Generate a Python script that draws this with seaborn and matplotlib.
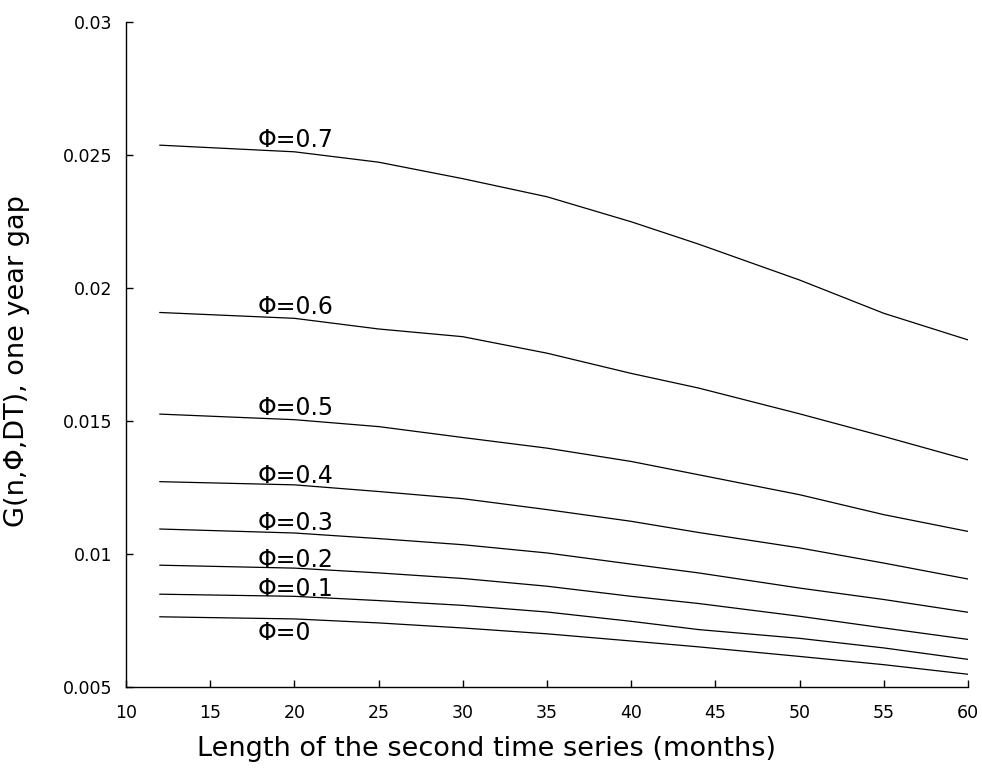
import numpy as np
import pandas as pd
import seaborn as sns
import matplotlib.pyplot as plt

# series length (months) at which values were read
months = [12, 20, 25, 30, 35, 40, 44, 50, 55, 60]

phi_labels = ['0.7', '0.6', '0.5', '0.4', '0.3', '0.2', '0.1', '0']

g_07 = [0.02537, 0.02512, 0.02473, 0.02411, 0.02343, 0.02249, 0.02165, 0.02030, 0.01905, 0.01805]
g_06 = [0.01908, 0.01886, 0.01846, 0.01817, 0.01755, 0.01679, 0.01624, 0.01527, 0.01442, 0.01354]
g_05 = [0.01526, 0.01505, 0.01479, 0.01438, 0.01398, 0.01348, 0.01298, 0.01223, 0.01148, 0.01085]
g_04 = [0.01272, 0.01260, 0.01235, 0.01208, 0.01167, 0.01123, 0.01081, 0.01023, 0.00966, 0.00906]
g_03 = [0.01094, 0.01079, 0.01058, 0.01035, 0.01004, 0.00962, 0.00929, 0.00872, 0.00829, 0.00781]
g_02 = [0.00958, 0.00947, 0.00929, 0.00908, 0.00879, 0.00841, 0.00814, 0.00766, 0.00722, 0.00679]
g_01 = [0.00849, 0.00841, 0.00825, 0.00807, 0.00782, 0.00747, 0.00716, 0.00683, 0.00647, 0.00604]
g_00 = [0.00764, 0.00756, 0.00741, 0.00722, 0.00700, 0.00673, 0.00651, 0.00615, 0.00584, 0.00548]

series = [g_07, g_06, g_05, g_04, g_03, g_02, g_01, g_00]

rows = []
for lab, vals in zip(phi_labels, series):
    for m, v in zip(months, vals):
        rows.append({'months': m, 'phi': lab, 'G': v})
df = pd.DataFrame(rows)

sns.set_style('ticks')
plt.rcParams['font.family'] = ['DejaVu Sans']
plt.rcParams['text.color'] = 'black'
plt.rcParams['axes.labelcolor'] = 'black'

fig = plt.figure(figsize=(9.82, 7.69), dpi=100)
ax = fig.add_axes([0.1283, 0.1066, 0.8574, 0.8648])

sns.lineplot(data=df, x='months', y='G', hue='phi', hue_order=phi_labels,
             palette=['black'] * len(phi_labels), linewidth=0.9, legend=False, ax=ax)

# curve labels near x = 18
for lab, vals in zip(phi_labels, series):
    if lab == '0':
        ax.annotate('\u03a6=' + lab, xy=(17.8, vals[0]), xytext=(0, -3),
                    textcoords='offset points', ha='left', va='top', fontsize=17)
    else:
        ax.annotate('\u03a6=' + lab, xy=(17.8, vals[0]), xytext=(0, -1),
                    textcoords='offset points', ha='left', va='baseline', fontsize=17)

ax.set_xlim(10, 60)
ax.set_ylim(0.005, 0.03)
ax.set_xticks(np.arange(10, 61, 5))
ax.set_yticks([0.005, 0.01, 0.015, 0.02, 0.025, 0.03])
ax.set_yticklabels(['0.005', '0.01', '0.015', '0.02', '0.025', '0.03'])
ax.tick_params(direction='in', length=5, width=1, labelsize=12.5, colors='black')
ax.tick_params(axis='x', pad=12)
ax.tick_params(axis='y', pad=10)
for s in ['top', 'right']:
    ax.spines[s].set_visible(False)
for s in ['left', 'bottom']:
    ax.spines[s].set_color('black')
    ax.spines[s].set_linewidth(1.0)

ax.set_xlabel('Length of the second time series (months)', fontsize=19.5)
ax.set_ylabel('G(n,\u03a6,DT), one year gap', fontsize=19.5)
ax.xaxis.set_label_coords(0.4276, -0.074)
ax.yaxis.set_label_coords(-0.114, 0.49)

fig.savefig('out.png', dpi=100)
